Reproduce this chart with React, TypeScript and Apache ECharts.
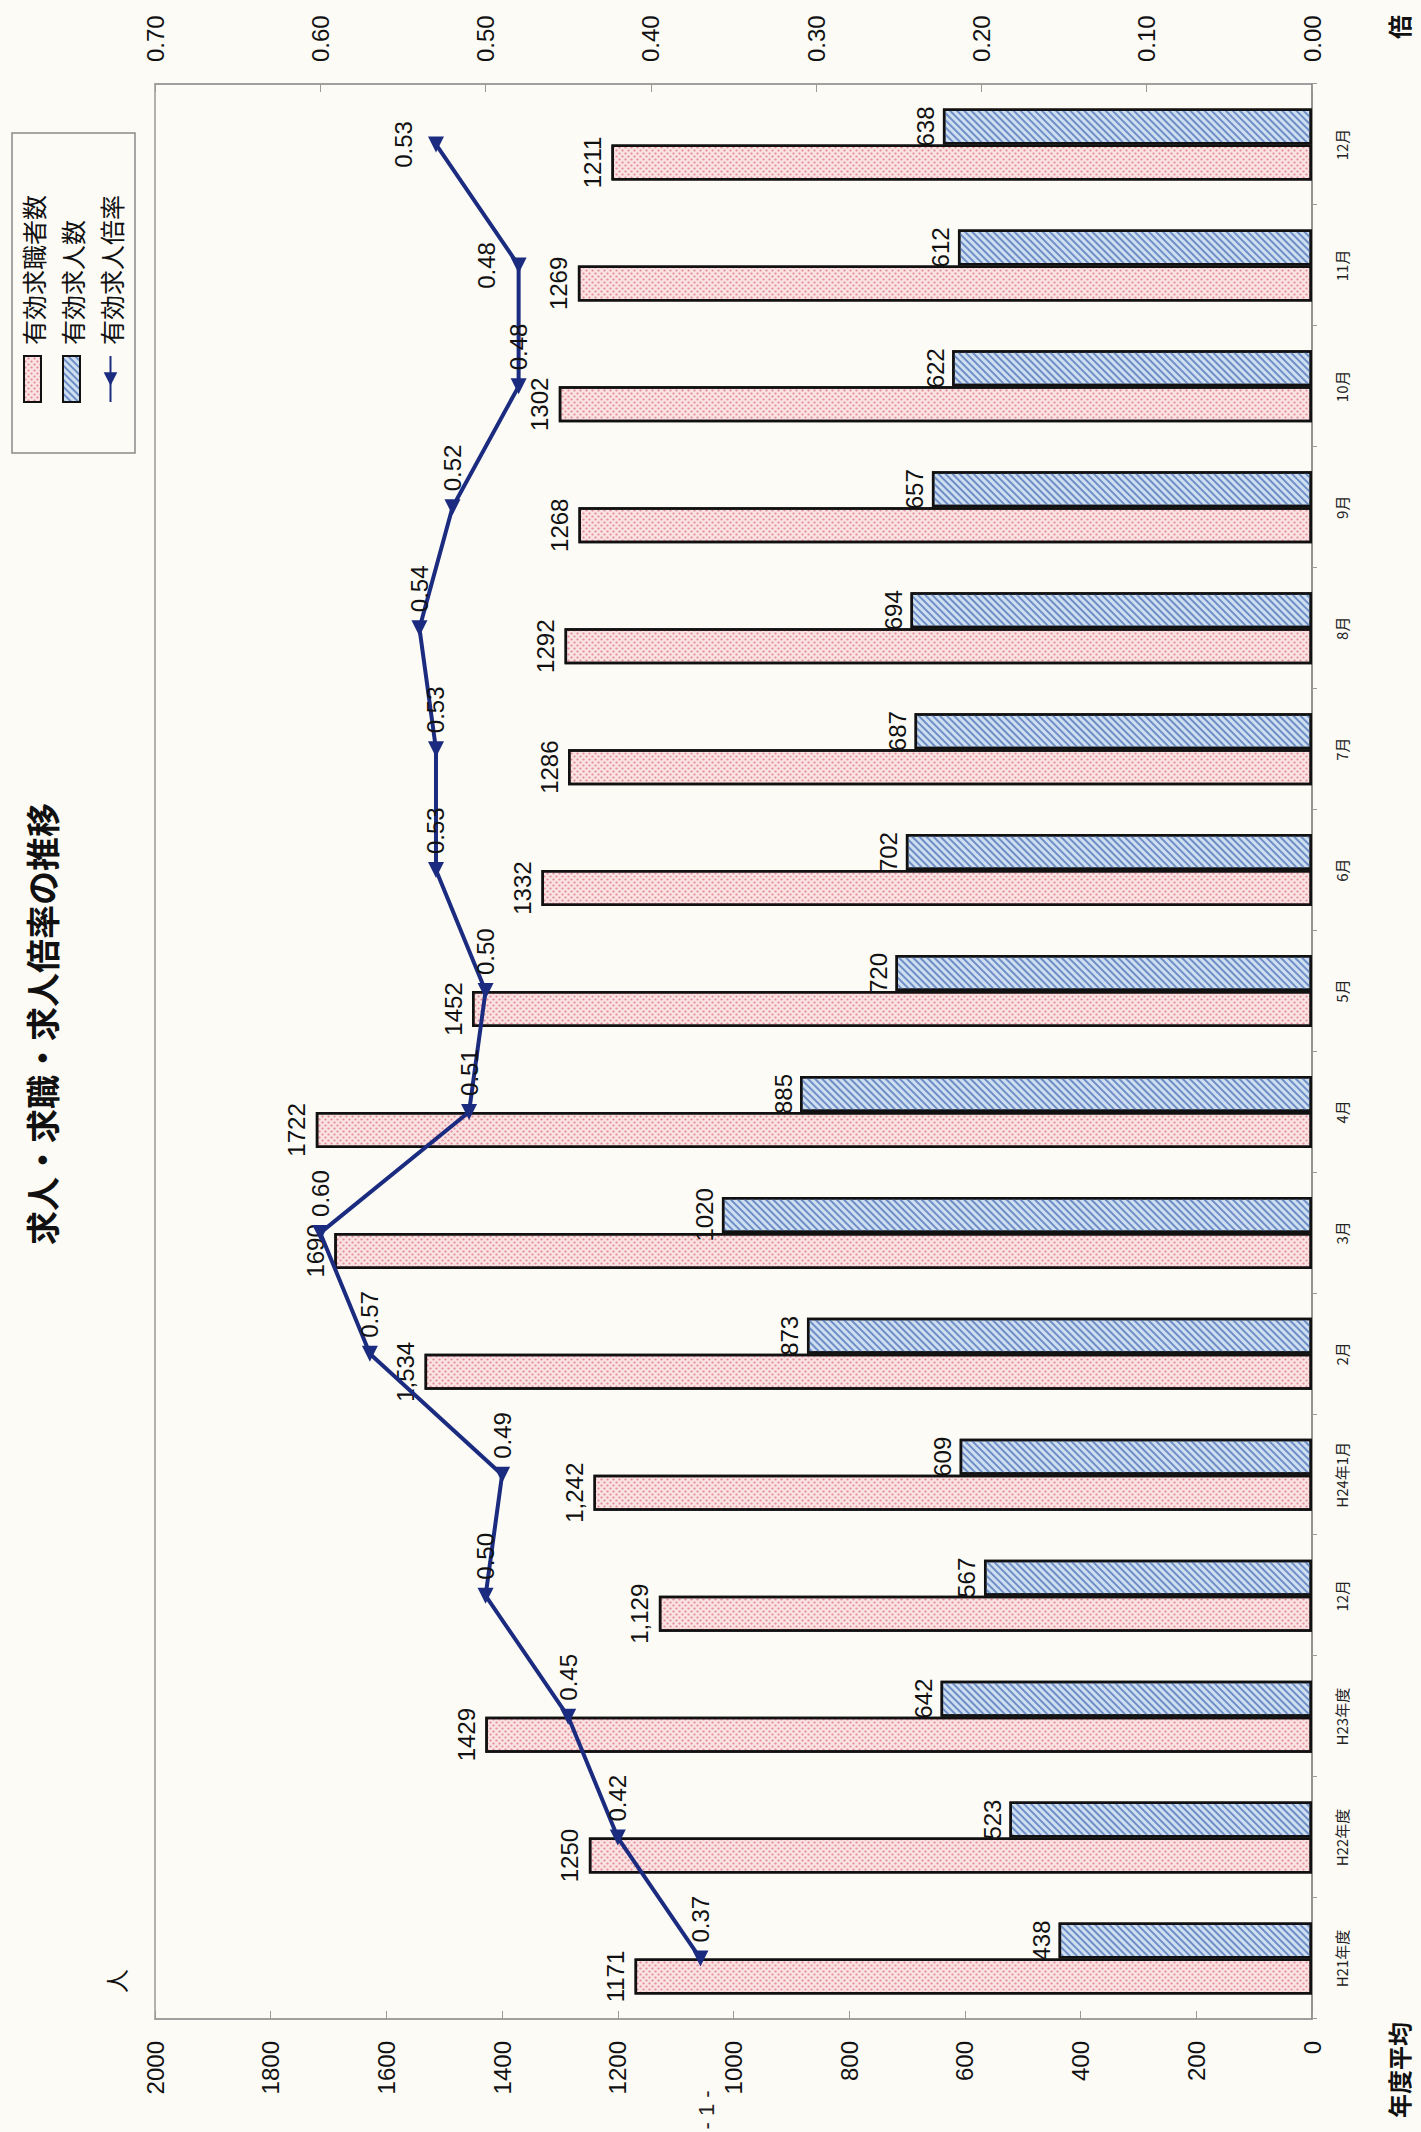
import React, { useEffect, useRef } from 'react';
import * as echarts from 'echarts';

// ---- data ----
const categories = ['H21年度', 'H22年度', 'H23年度', '12月', 'H24年1月', '2月', '3月', '4月', '5月', '6月', '7月', '8月', '9月', '10月', '11月', '12月'];
const jobSeekers = [1171, 1250, 1429, 1129, 1242, 1534, 1690, 1722, 1452, 1332, 1286, 1292, 1268, 1302, 1269, 1211];
const jobOpenings = [438, 523, 642, 567, 609, 873, 1020, 885, 720, 702, 687, 694, 657, 622, 612, 638];
const openingRatio = [0.37, 0.42, 0.45, 0.50, 0.49, 0.57, 0.60, 0.51, 0.50, 0.53, 0.53, 0.54, 0.52, 0.48, 0.48, 0.53];
const commaLabelIndex = [3, 4, 5];
const ratioLabelAboveIndex = [14, 15];
const seriesNames = ['有効求職者数', '有効求人数', '有効求人倍率'];
const personAxis = { min: 0, max: 2000, interval: 200 };
const ratioAxis = { min: 0, max: 0.7, interval: 0.1 };

const W = 2132;
const H = 1421;
const NUM_FONT = '"Liberation Sans", Arial, sans-serif';
const JP_FONT = '"Noto Sans CJK JP", "Noto Sans", sans-serif';

function buildOption(): any {
  return {
    animation: false,
    backgroundColor: 'transparent',
    textStyle: { fontFamily: NUM_FONT },
    grid: {
      left: 113,
      right: 84,
      top: 155,
      bottom: 109,
      show: true,
      borderColor: '#9a9a9a',
      borderWidth: 1.5,
      backgroundColor: 'transparent',
    },
    legend: {
      data: [
        { name: seriesNames[0], icon: 'rect' },
        { name: seriesNames[1], icon: 'rect' },
        { name: seriesNames[2] },
      ],
      orient: 'vertical',
      left: 1679,
      top: 12,
      itemWidth: 46,
      itemHeight: 17,
      itemGap: 14,
      padding: [8, 62, 12, 50],
      borderColor: '#8a8a8a',
      borderWidth: 1.5,
      textStyle: { fontSize: 25, color: '#111', fontFamily: JP_FONT, padding: [0, 0, 0, 6] },
    },
    xAxis: {
      type: 'category',
      data: categories,
      position: 'bottom',
      axisLine: { show: true, lineStyle: { color: '#8a8a8a', width: 1.5 } },
      axisTick: { show: true, alignWithLabel: false, length: 5, lineStyle: { color: '#9a9a9a' } },
      axisLabel: { fontSize: 15, color: '#222', margin: 22, fontFamily: JP_FONT, interval: 0 },
      splitLine: { show: false },
    },
    yAxis: [
      {
        type: 'value',
        position: 'left',
        min: personAxis.min,
        max: personAxis.max,
        interval: personAxis.interval,
        axisLine: { show: true, lineStyle: { color: '#9a9a9a', width: 1.5 } },
        axisTick: { show: true, inside: true, length: 8, lineStyle: { color: '#9a9a9a' } },
        axisLabel: {
          fontSize: 24,
          color: '#111',
          margin: 22,
          fontFamily: NUM_FONT,
          formatter: (v: number) => String(v),
        },
        splitLine: { show: false },
      },
      {
        type: 'value',
        position: 'right',
        min: ratioAxis.min,
        max: ratioAxis.max,
        interval: ratioAxis.interval,
        axisLine: { show: true, lineStyle: { color: '#9a9a9a', width: 1.5 } },
        axisTick: { show: true, inside: true, length: 8, lineStyle: { color: '#9a9a9a' } },
        axisLabel: {
          fontSize: 24,
          color: '#111',
          margin: 22,
          fontFamily: NUM_FONT,
          formatter: (v: number) => v.toFixed(2),
        },
        splitLine: { show: false },
      },
    ],
    series: [
      {
        name: seriesNames[0],
        type: 'bar',
        yAxisIndex: 0,
        data: jobSeekers,
        barWidth: 36,
        barGap: '0%',
        itemStyle: {
          color: '#fbe3e3',
          borderColor: '#111',
          borderWidth: 2.5,
          decal: {
            symbol: 'circle',
            symbolSize: 0.75,
            dashArrayX: [[3, 3], [0, 3, 3, 0]],
            dashArrayY: [3, 0],
            color: 'rgba(205, 80, 100, 0.55)',
          },
        },
        label: {
          show: true,
          position: 'top',
          distance: 7,
          fontSize: 24,
          color: '#111',
          fontFamily: NUM_FONT,
          formatter: (p: any) =>
            commaLabelIndex.includes(p.dataIndex)
              ? Number(p.value).toLocaleString('en-US')
              : String(p.value),
        },
      },
      {
        name: seriesNames[1],
        type: 'bar',
        yAxisIndex: 0,
        data: jobOpenings,
        barWidth: 36,
        barGap: '0%',
        itemStyle: {
          color: '#cfdef0',
          borderColor: '#111',
          borderWidth: 2.5,
          decal: {
            symbol: 'rect',
            symbolSize: 1,
            dashArrayX: [1, 0],
            dashArrayY: [2, 3],
            rotation: -Math.PI / 4,
            color: '#6e8fc6',
          },
        },
        label: {
          show: true,
          position: 'top',
          distance: 5,
          fontSize: 24,
          color: '#111',
          fontFamily: NUM_FONT,
        },
      },
      {
        name: seriesNames[2],
        type: 'line',
        yAxisIndex: 1,
        z: 5,
        data: openingRatio.map((v, i) =>
          ratioLabelAboveIndex.includes(i)
            ? { value: v, label: { position: 'top', distance: 12 } }
            : v
        ),
        symbol: 'triangle',
        symbolSize: 16,
        symbolRotate: 90,
        lineStyle: { color: '#1b2c80', width: 4 },
        itemStyle: { color: '#1b2c80' },
        label: {
          show: true,
          position: 'right',
          distance: 8,
          fontSize: 24,
          color: '#111',
          fontFamily: NUM_FONT,
          formatter: (p: any) => Number(p.value).toFixed(2),
        },
      },
    ],
    graphic: [
      {
        type: 'text',
        x: 1108,
        y: 41,
        style: {
          text: '求人・求職・求人倍率の推移',
          font: `bold 34px ${JP_FONT}`,
          fill: '#111',
          textAlign: 'center',
          textVerticalAlign: 'middle',
        },
      },
      {
        type: 'text',
        x: 151,
        y: 115,
        style: { text: '人', font: `24px ${JP_FONT}`, fill: '#111', textAlign: 'center', textVerticalAlign: 'middle' },
      },
      {
        type: 'text',
        x: 2105,
        y: 1398,
        style: { text: '倍', font: `bold 24px ${JP_FONT}`, fill: '#111', textAlign: 'center', textVerticalAlign: 'middle' },
      },
      {
        type: 'text',
        x: 62,
        y: 1398,
        style: { text: '年度平均', font: `bold 24px ${JP_FONT}`, fill: '#111', textAlign: 'center', textVerticalAlign: 'middle' },
      },
      {
        type: 'text',
        x: 22,
        y: 706,
        style: { text: '- 1 -', font: `22px ${NUM_FONT}`, fill: '#222', textAlign: 'center', textVerticalAlign: 'middle' },
      },
    ],
  };
}

export default function App() {
  const ref = useRef<HTMLDivElement>(null);
  useEffect(() => {
    if (!ref.current) return;
    const chart = echarts.init(ref.current, null, { renderer: 'svg' });
    chart.setOption(buildOption());
    return () => chart.dispose();
  }, []);
  return (
    <div
      style={{
        position: 'absolute',
        left: 0,
        top: 0,
        width: 1421,
        height: 2132,
        overflow: 'hidden',
        background: '#fcfbf6',
      }}
    >
      <div
        ref={ref}
        style={{
          position: 'absolute',
          left: 0,
          top: 0,
          width: W,
          height: H,
          transformOrigin: '0 0',
          transform: `translateY(${W}px) rotate(-90deg)`,
        }}
      />
    </div>
  );
}
